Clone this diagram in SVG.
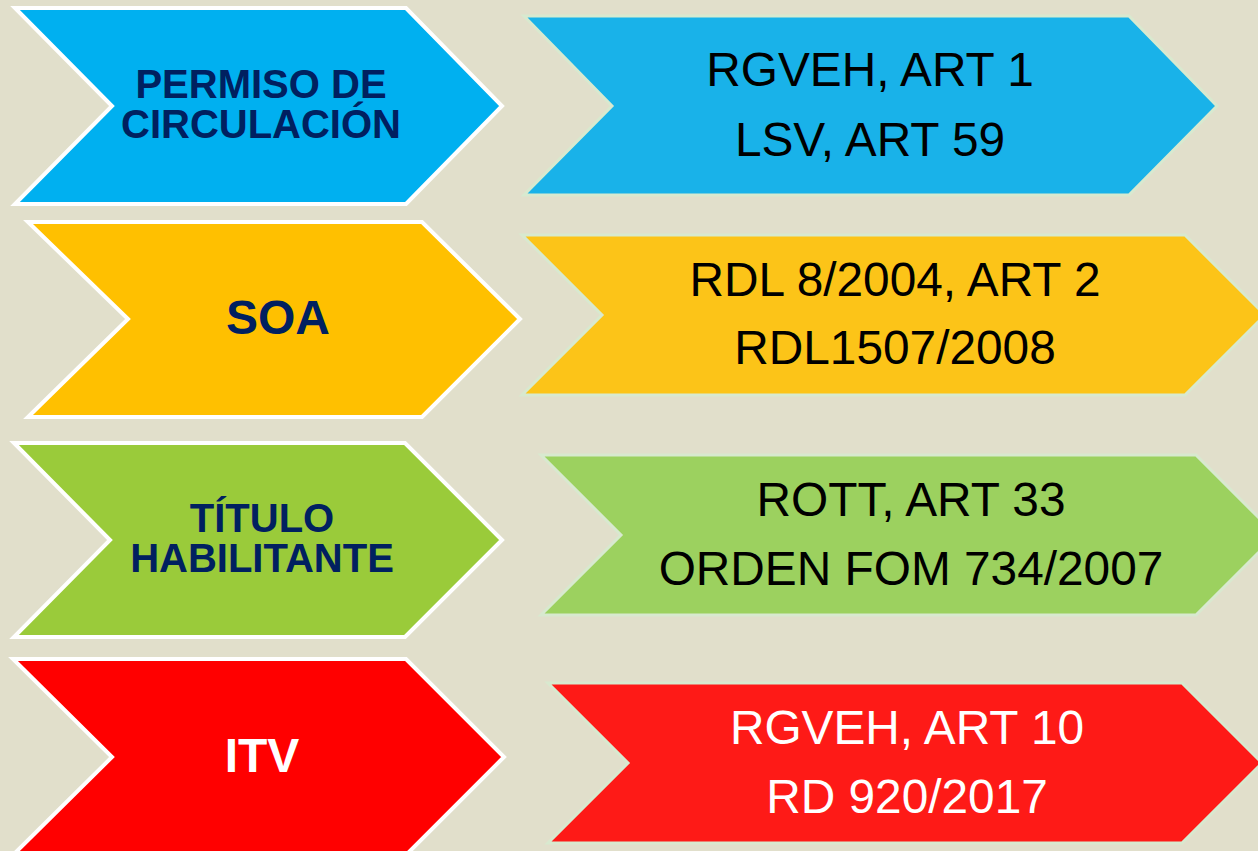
<svg xmlns="http://www.w3.org/2000/svg" width="1258" height="851" viewBox="0 0 1258 851">
<style>
.l{stroke:#ffffff;stroke-width:4;stroke-linejoin:miter}
.r{stroke:#d8e9cf;stroke-width:3;stroke-linejoin:miter}
.t{font-family:"Liberation Sans",Arial,sans-serif;font-weight:bold;font-size:40px;fill:#002060;text-anchor:middle}
.t2{font-size:48px}
.s{font-family:"Liberation Sans",Arial,sans-serif;font-size:47.8px;fill:#000000;text-anchor:middle}
.w{fill:#ffffff}
</style>
<rect x="0" y="0" width="1258" height="851" fill="#e1dfcb"/>
<g id="permiso">
<polygon class="l" fill="#00b0f0" points="15,8 406,8 502,106 406,204 15,204 112,106"/>
<text class="t" x="261" y="98">PERMISO DE</text>
<text class="t" x="261" y="138">CIRCULACIÓN</text>
</g>
<g id="permiso-ref">
<polygon class="r" fill="#19b2e9" points="524,16 1129,16 1217,106 1129,195 524,195 612,106"/>
<text class="s" x="870" y="86">RGVEH, ART 1</text>
<text class="s" x="870" y="156">LSV, ART 59</text>
</g>
<g id="soa">
<polygon class="l" fill="#ffc000" points="28,222 422,222 520,319 422,417 28,417 128,319"/>
<text class="t t2" x="278" y="334">SOA</text>
</g>
<g id="soa-ref">
<polygon class="r" fill="#fcc418" points="522,235 1185,235 1265,315 1185,395 522,395 602,315"/>
<text class="s" x="895" y="296">RDL 8/2004, ART 2</text>
<text class="s" x="895" y="364">RDL1507/2008</text>
</g>
<g id="titulo">
<polygon class="l" fill="#9acb3a" points="14,443 405,443 502,540 405,637 14,637 110,540"/>
<text class="t" x="262" y="532">TÍTULO</text>
<text class="t" x="262" y="572">HABILITANTE</text>
</g>
<g id="titulo-ref">
<polygon class="r" fill="#9cd15f" points="541,455 1196,455 1276,535 1196,615 541,615 621,535"/>
<text class="s" x="911" y="516">ROTT, ART 33</text>
<text class="s" x="911" y="585">ORDEN FOM 734/2007</text>
</g>
<g id="itv">
<polygon class="l" fill="#ff0000" points="13,659 406,659 504,757 406,855 13,855 112,757"/>
<text class="t t2 w" x="262" y="772">ITV</text>
</g>
<g id="itv-ref">
<polygon class="r" fill="#fe1a17" points="548,683 1182,683 1262,763 1182,843 548,843 628,763"/>
<text class="s w" x="907" y="744">RGVEH, ART 10</text>
<text class="s w" x="907" y="813">RD 920/2017</text>
</g>
<g id="connectors"/>
</svg>
